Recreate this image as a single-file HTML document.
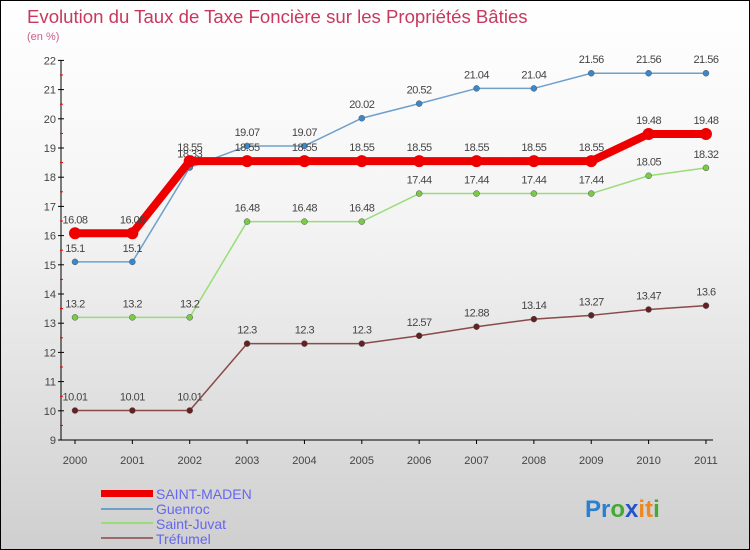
<!DOCTYPE html>
<html><head><meta charset="utf-8">
<style>
html,body{margin:0;padding:0}
body{width:750px;height:550px;overflow:hidden;font-family:"Liberation Sans",sans-serif}
#wrap{position:relative;width:748px;height:548px;border:1px solid #000;background:linear-gradient(#ffffff,#f4f4f4 40%,#cfcfcf)}
svg{position:absolute;left:0;top:0}
</style></head><body>
<div id="wrap">
<svg id="chart" width="748" height="548">
<text x="26" y="22" font-size="18.6" fill="#c8385f">Evolution du Taux de Taxe Foncière sur les Propriétés Bâties</text>
<text x="26" y="39" font-size="11" fill="#c8608a">(en %)</text>
<g id="axes"></g><g id="series"></g>
<g>
<rect x="100" y="489" width="52" height="7" fill="#e00"/>
<text x="155" y="498" font-size="14" fill="#6666ee">SAINT-MADEN</text>
<line x1="100" x2="152" y1="508" y2="508" stroke="#6fa0cc" stroke-width="2"/>
<text x="155" y="513" font-size="14" fill="#6666ee">Guenroc</text>
<line x1="100" x2="152" y1="522" y2="522" stroke="#99dd77" stroke-width="2"/>
<text x="155" y="528" font-size="14" fill="#6666ee">Saint-Juvat</text>
<line x1="100" x2="152" y1="537" y2="537" stroke="#9a6a6a" stroke-width="2"/>
<text x="155" y="543" font-size="14" fill="#6666ee">Tréfumel</text>
</g>
<text x="584" y="516" font-size="24" font-weight="bold"><tspan fill="#2a7fd0">Pr</tspan><tspan fill="#44aa33">o</tspan><tspan fill="#2255cc">x</tspan><tspan fill="#ee8822">it</tspan><tspan fill="#44aa33">i</tspan></text>
</svg></div>
<script>
const years=[2000,2001,2002,2003,2004,2005,2006,2007,2008,2009,2010,2011];
const yTicks=[9,10,11,12,13,14,15,16,17,18,19,20,21,22];
const saintMaden=[16.08,16.08,18.55,18.55,18.55,18.55,18.55,18.55,18.55,18.55,19.48,19.48];
const guenroc=[15.1,15.1,18.33,19.07,19.07,20.02,20.52,21.04,21.04,21.56,21.56,21.56];
const saintJuvat=[13.2,13.2,13.2,16.48,16.48,16.48,17.44,17.44,17.44,17.44,18.05,18.32];
const trefumel=[10.01,10.01,10.01,12.3,12.3,12.3,12.57,12.88,13.14,13.27,13.47,13.6];
const NS="http://www.w3.org/2000/svg";
const X=i=>74+i*57.36, Y=v=>439-(v-9)*29.2;
function mk(t,a,p){const e=document.createElementNS(NS,t);for(const k in a)e.setAttribute(k,a[k]);p.appendChild(e);return e;}
const ax=document.getElementById('axes'), sg=document.getElementById('series');
let l=mk('line',{x1:60,x2:60,y1:Y(22),y2:Y(9),stroke:'#000'},ax);


l=mk('line',{x1:60,x2:712,y1:Y(9),y2:Y(9),stroke:'#000'},ax);


yTicks.forEach(v=>{mk('line',{x1:57,x2:63,y1:Y(v),y2:Y(v),stroke:'#000'},ax);
 if(v<22)mk('line',{x1:59,x2:62,y1:Y(v+0.5),y2:Y(v+0.5),stroke:'#e00'},ax);
 const t=mk('text',{x:55,y:Y(v)+4,'font-size':11,'text-anchor':'end',fill:'#444'},ax);t.textContent=v;
 
 });
years.forEach((yr,i)=>{mk('line',{x1:X(i),x2:X(i),y1:Y(9),y2:Y(9)+4,stroke:'#000'},ax);
 const t=mk('text',{x:X(i),y:Y(9)+24,'font-size':11,'text-anchor':'middle',fill:'#444'},ax);t.textContent=yr;
 
 });
function series(vals,name,col,dot,w,r){
 const g=mk('g',{},sg);
 
 
 mk('polyline',{points:vals.map((v,i)=>X(i)+','+Y(v)).join(' '),fill:'none',stroke:col,'stroke-width':w,'stroke-linejoin':'round'},g);
 vals.forEach((v,i)=>{const c=mk('circle',{cx:X(i),cy:Y(v),r:r,fill:dot,stroke:w>3?'none':'#555','stroke-width':0.5},g);
  
  
  const t=mk('text',{x:X(i),y:Y(v)-10,'font-size':11,'text-anchor':'middle',fill:'#444','letter-spacing':'-0.5'},g);t.textContent=v;
  
  });
}
series(trefumel,'trefumel','#8a4a4a','#661f22',1.5,3);
series(saintJuvat,'saint-juvat','#99dd77','#77cc44',1.5,3);
series(guenroc,'guenroc','#6fa0cc','#3a88cc',1.5,3);
series(saintMaden,'saint-maden','#ee0000','#ee0000',8,6);
</script>
</body></html>
